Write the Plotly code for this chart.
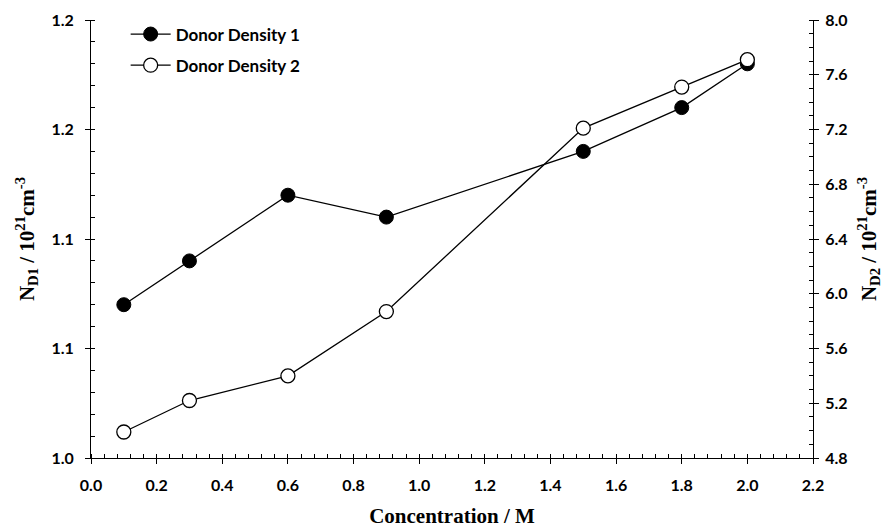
import plotly.graph_objects as go

conc = [0.1, 0.3, 0.6, 0.9, 1.5, 1.8, 2.0]
nd1 = [1.07, 1.09, 1.12, 1.11, 1.14, 1.16, 1.18]
nd2 = [4.99, 5.22, 5.40, 5.87, 7.21, 7.51, 7.71]

y1_tickvals = [1.0, 1.05, 1.1, 1.15, 1.2]
y1_ticktext = ["1.0", "1.1", "1.1", "1.2", "1.2"]
y2_tickvals = [4.8, 5.2, 5.6, 6.0, 6.4, 6.8, 7.2, 7.6, 8.0]
y2_ticktext = ["4.8", "5.2", "5.6", "6.0", "6.4", "6.8", "7.2", "7.6", "8.0"]
x_tickvals = [0.0, 0.2, 0.4, 0.6, 0.8, 1.0, 1.2, 1.4, 1.6, 1.8, 2.0, 2.2]
x_ticktext = ["0.0", "0.2", "0.4", "0.6", "0.8", "1.0", "1.2", "1.4", "1.6", "1.8", "2.0", "2.2"]

tickfont = dict(family="Lato, Open Sans, sans-serif", size=16, color="black", weight="bold")
titlefont = dict(family="Liberation Serif, Times New Roman, serif", size=21, color="black", weight="bold")

fig = go.Figure()
fig.add_trace(go.Scatter(
    x=conc, y=nd1, mode="lines+markers", name="Donor Density 1",
    legendgroup="g1",
    line=dict(color="black", width=1.3),
    marker=dict(symbol="circle", size=14, color="black", line=dict(color="black", width=1)),
    yaxis="y"))
fig.add_trace(go.Scatter(
    x=conc, y=nd2, mode="lines+markers", name="Donor Density 2",
    legendgroup="g2",
    line=dict(color="black", width=1.3),
    marker=dict(symbol="circle", size=14, color="white", line=dict(color="black", width=1.3)),
    yaxis="y2"))

fig.update_layout(
    width=886, height=531,
    margin=dict(l=91, r=73, t=20, b=73),
    plot_bgcolor="white", paper_bgcolor="white",
    showlegend=True,
    legend=dict(x=0.048, y=1.008, xanchor="left", yanchor="top",
                bgcolor="rgba(0,0,0,0)",
                font=dict(family="Lato, Open Sans, sans-serif", size=17, color="black", weight="bold"),
                traceorder="grouped", tracegroupgap=6, itemwidth=40),
    xaxis=dict(range=[0, 2.2], tickvals=x_tickvals, ticktext=x_ticktext,
               showline=True, linecolor="black", linewidth=1, mirror=False, automargin=False,
               ticks="outside", ticklen=5, tickcolor="black", showgrid=False, zeroline=False,
               minor=dict(dtick=0.04, tick0=0, ticks="inside", ticklen=4, tickcolor="black", showgrid=False),
               tickfont=tickfont, ticklabelstandoff=8,
               title=dict(text="Concentration / M", font=titlefont, standoff=15)),
    yaxis=dict(range=[1.0, 1.2], tickvals=y1_tickvals, ticktext=y1_ticktext,
               showline=True, linecolor="black", linewidth=1, automargin=False,
               ticks="outside", ticklen=5, tickcolor="black", showgrid=False, zeroline=False,
               minor=dict(dtick=0.01, tick0=1.0, ticks="inside", ticklen=4, tickcolor="black", showgrid=False),
               tickfont=tickfont, ticklabelstandoff=8,
               title=dict(text="N<sub>D1</sub> / 10<sup>21</sup>cm<sup>-3</sup>", font=titlefont, standoff=11)),
    yaxis2=dict(range=[4.8, 8.0], tickvals=y2_tickvals, ticktext=y2_ticktext,
                overlaying="y", side="right", automargin=False,
                showline=True, linecolor="black", linewidth=1,
                ticks="outside", ticklen=5, tickcolor="black", showgrid=False, zeroline=False,
                minor=dict(dtick=0.1, tick0=4.8, ticks="inside", ticklen=4, tickcolor="black", showgrid=False),
                tickfont=tickfont, ticklabelstandoff=3,
                title=dict(text="N<sub>D2</sub> / 10<sup>21</sup>cm<sup>-3</sup>", font=titlefont, standoff=14)),
)

fig.write_html("out.html")
